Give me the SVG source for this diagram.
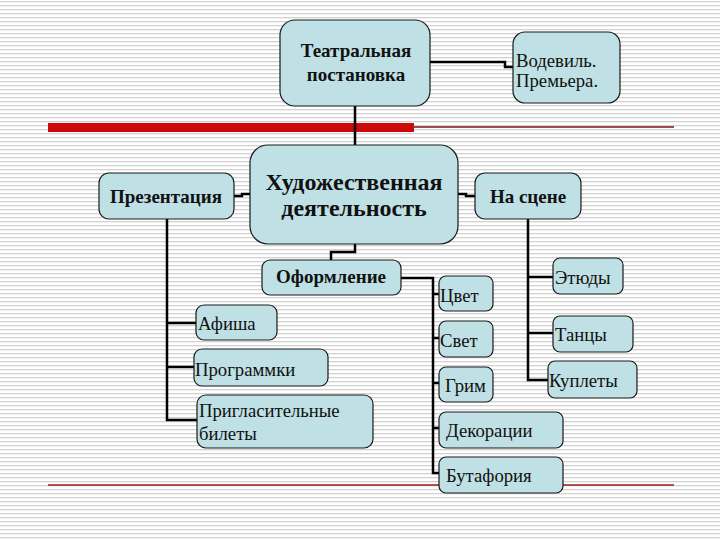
<svg xmlns="http://www.w3.org/2000/svg" width="720" height="540" viewBox="0 0 720 540">
<defs>
<pattern id="stripes" x="0" y="0" width="8" height="4" patternUnits="userSpaceOnUse">
<rect width="8" height="4" fill="#ffffff"/>
<rect y="1" width="8" height="1.3" fill="#d2d2d2"/>
</pattern>
<style>
.box{fill:#bfe0e4;stroke:#1a1a1a;stroke-width:1.2}
text{font-family:'Liberation Serif','DejaVu Serif','Times New Roman',serif;fill:#111}
.bold{font-weight:bold;font-size:19px}
.reg{font-size:18.7px}
.conn{fill:none;stroke:#000;stroke-width:2.5}
</style>
</defs>
<rect width="720" height="540" fill="url(#stripes)"/>
<g id="rules">
<line x1="414" y1="127" x2="674" y2="127" stroke="#7a1010" stroke-width="1.5"/>
<rect x="48" y="123" width="366" height="9" fill="#cc0a0a"/>
<line x1="48" y1="485" x2="674" y2="485" stroke="#9a1a1a" stroke-width="1.5"/>
</g>
<g id="connectors" class="conn">
<polyline points="430,62 505,62 505,67 513,67"/>
<line x1="355" y1="106" x2="355" y2="145"/>
<polyline points="234,196 242,196 242,194 250,194"/>
<polyline points="458,194 466,194 466,196 475,196"/>
<polyline points="355,244 355,252 331,252 331,260"/>
<polyline points="167,219 167,420 197,420"/>
<line x1="167" y1="323" x2="196" y2="323"/>
<line x1="167" y1="367" x2="194" y2="367"/>
<polyline points="401,278 433,278 433,473 439,473"/>
<line x1="433" y1="294" x2="439" y2="294"/>
<line x1="433" y1="338" x2="439" y2="338"/>
<line x1="433" y1="383" x2="439" y2="383"/>
<line x1="433" y1="428" x2="439" y2="428"/>
<polyline points="528,219 528,380 548,380"/>
<line x1="528" y1="277" x2="553" y2="277"/>
<line x1="528" y1="333" x2="553" y2="333"/>
</g>
<g id="teatr">
<rect class="box" x="280" y="20" width="150" height="86" rx="15"/>
<text class="bold" text-anchor="middle"><tspan x="356" y="57">Театральная</tspan><tspan x="356" y="81">постановка</tspan></text>
</g>
<g id="vodevil">
<rect class="box" x="513" y="32" width="107" height="71" rx="12"/>
<text class="reg"><tspan x="516" y="67">Водевиль.</tspan><tspan x="516" y="87">Премьера.</tspan></text>
</g>
<g id="hudozh">
<rect class="box" x="250" y="145" width="208" height="99" rx="18"/>
<text class="bold" style="font-size:24px" text-anchor="middle"><tspan x="354" y="190">Художественная</tspan><tspan x="354" y="216">деятельность</tspan></text>
</g>
<g id="prezent">
<rect class="box" x="99" y="173" width="135" height="46" rx="10"/>
<text class="bold" text-anchor="middle" x="166" y="203">Презентация</text>
</g>
<g id="nascene">
<rect class="box" x="475" y="173" width="106" height="46" rx="10"/>
<text class="bold" text-anchor="middle" x="528" y="203">На сцене</text>
</g>
<g id="oform">
<rect class="box" x="262" y="260" width="139" height="35" rx="8"/>
<text class="bold" text-anchor="middle" x="331" y="283">Оформление</text>
</g>
<g id="afisha">
<rect class="box" x="196" y="305" width="81" height="35" rx="8"/>
<text class="reg" x="198" y="330">Афиша</text>
</g>
<g id="programmki">
<rect class="box" x="194" y="349" width="134" height="37" rx="8"/>
<text class="reg" x="195" y="376">Программки</text>
</g>
<g id="bilety">
<rect class="box" x="197" y="395" width="176" height="53" rx="9"/>
<text class="reg"><tspan x="199" y="417">Пригласительные</tspan><tspan x="199" y="440">билеты</tspan></text>
</g>
<g id="cvet">
<rect class="box" x="439" y="276" width="54" height="35" rx="7"/>
<text class="reg" x="440" y="302">Цвет</text>
</g>
<g id="svet">
<rect class="box" x="439" y="321" width="54" height="36" rx="7"/>
<text class="reg" x="440" y="347">Свет</text>
</g>
<g id="grim">
<rect class="box" x="439" y="367" width="54" height="35" rx="7"/>
<text class="reg" x="445" y="392">Грим</text>
</g>
<g id="dekor">
<rect class="box" x="439" y="412" width="124" height="36" rx="7"/>
<text class="reg" x="446" y="437">Декорации</text>
</g>
<g id="butafor">
<rect class="box" x="439" y="457" width="124" height="36" rx="7"/>
<text class="reg" x="446" y="482">Бутафория</text>
</g>
<g id="etyudy">
<rect class="box" x="553" y="258" width="70" height="36" rx="7"/>
<text class="reg" x="555" y="284">Этюды</text>
</g>
<g id="tancy">
<rect class="box" x="553" y="316" width="80" height="36" rx="7"/>
<text class="reg" x="555" y="341">Танцы</text>
</g>
<g id="kuplety">
<rect class="box" x="548" y="361" width="89" height="37" rx="7"/>
<text class="reg" x="549" y="387">Куплеты</text>
</g>
</svg>
